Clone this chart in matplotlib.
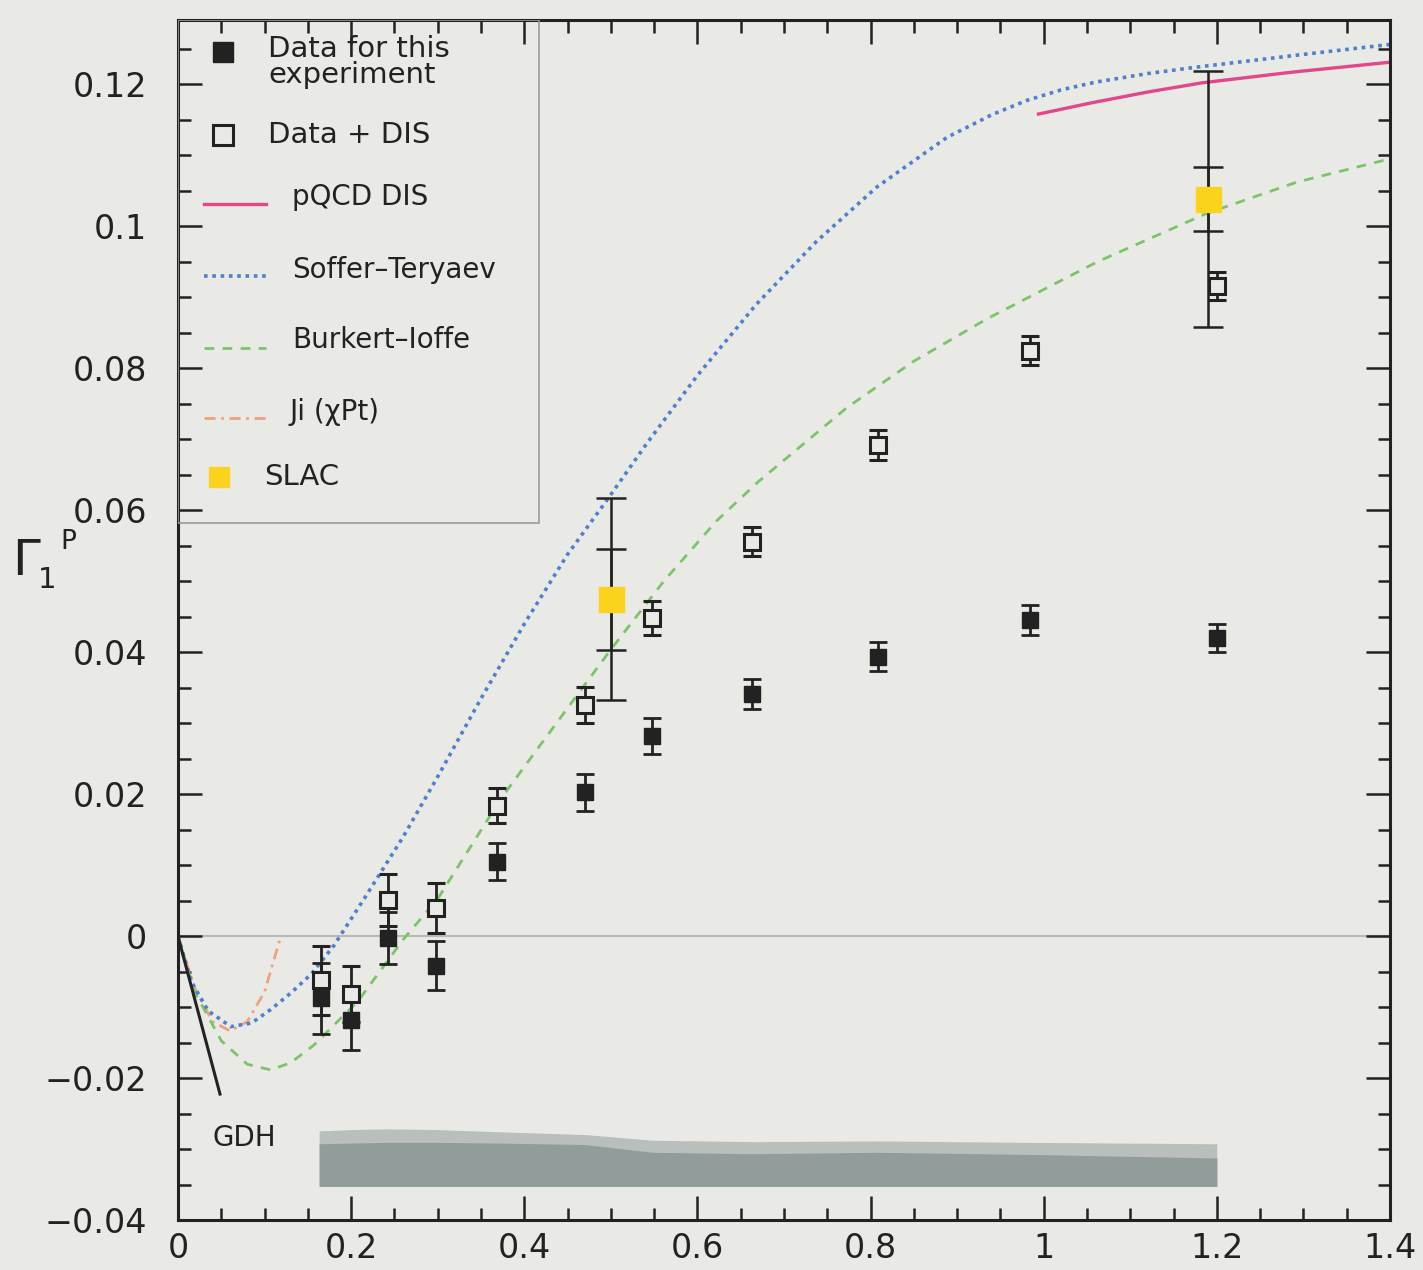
import matplotlib
matplotlib.use("Agg")
import matplotlib.pyplot as plt
from matplotlib.ticker import MultipleLocator, FuncFormatter
from matplotlib.patches import Rectangle

# Q^2 bins (GeV^2)
q2 = [0.165, 0.20, 0.243, 0.298, 0.368, 0.47, 0.548, 0.663, 0.809, 0.984, 1.20]

# data for this experiment (filled squares)
g1_exp = [-0.0087, -0.0118, -0.0002, -0.0041, 0.0105, 0.0203, 0.0282, 0.0341, 0.0394, 0.0446, 0.0420]
g1_exp_err = [0.0050, 0.0042, 0.0037, 0.0034, 0.0026, 0.0026, 0.0025, 0.0021, 0.0020, 0.0021, 0.0020]

# data + DIS (open squares)
g1_dis = [-0.0062, -0.0081, 0.0051, 0.0040, 0.0184, 0.0326, 0.0449, 0.0556, 0.0692, 0.0825, 0.0916]
g1_dis_err = [0.0049, 0.0040, 0.0037, 0.0035, 0.0025, 0.0025, 0.0024, 0.0021, 0.0021, 0.0021, 0.0020]

# SLAC points
slac_q2 = [0.50, 1.19]
slac_g1 = [0.0475, 0.1038]
slac_stat = [0.0071, 0.0045]
slac_tot = [0.0142, 0.0180]

# systematic bands
band_x = [0.163, 0.20, 0.243, 0.298, 0.368, 0.47, 0.548, 0.663, 0.809, 0.984, 1.20]
band_base = -0.0352
band_dark = [-0.0292, -0.0291, -0.0290, -0.0290, -0.0291, -0.0293, -0.0304, -0.0306, -0.0304, -0.0307, -0.0312]
band_light = [-0.0274, -0.0272, -0.0271, -0.0272, -0.0275, -0.0279, -0.0287, -0.0289, -0.0288, -0.0290, -0.0292]

# model curves
st_x = [0, 0.015, 0.035, 0.061, 0.085, 0.107, 0.13, 0.154, 0.180, 0.215, 0.26, 0.30, 0.35, 0.40, 0.45,
        0.497, 0.542, 0.60, 0.668, 0.737, 0.807, 0.888, 0.94, 0.98, 1.02, 1.06, 1.12, 1.176, 1.30, 1.40]
st_y = [0, -0.0063, -0.0105, -0.0127, -0.0122, -0.0103, -0.0080, -0.0053, -0.0013, 0.0053, 0.0140,
        0.0225, 0.0335, 0.0440, 0.0538, 0.0617, 0.0695, 0.0790, 0.0890, 0.0978, 0.1055, 0.1125,
        0.1157, 0.1177, 0.1192, 0.1203, 0.1215, 0.1224, 0.1242, 0.1256]

bi_x = [0, 0.02, 0.05, 0.08, 0.107, 0.13, 0.157, 0.208, 0.261, 0.30, 0.373, 0.42, 0.46, 0.50, 0.561,
        0.622, 0.670, 0.773, 0.85, 0.935, 1.062, 1.188, 1.292, 1.40]
bi_y = [0, -0.0080, -0.0147, -0.0180, -0.0188, -0.0178, -0.0153, -0.0091, -0.0003, 0.0053, 0.0194,
        0.0272, 0.0338, 0.0404, 0.0500, 0.0585, 0.0640, 0.0745, 0.0810, 0.0870, 0.0950, 0.1018,
        0.1062, 0.1095]

pqcd_x = [0.994, 1.056, 1.12, 1.183, 1.287, 1.40]
pqcd_y = [0.1158, 0.1174, 0.1189, 0.1202, 0.1217, 0.1231]

ji_x = [0, 0.02, 0.04, 0.06, 0.08, 0.10, 0.118]
ji_y = [0, -0.0075, -0.0120, -0.0133, -0.0120, -0.0078, -0.0003]

gdh_x = [0, 0.0485]
gdh_y = [0, -0.0222]

bg = "#e9eae5"
c_pqcd = "#e4468c"
c_st = "#4f7fd0"
c_bi = "#7cc46a"
c_ji = "#eea27e"
c_slac = "#fbd21c"
ink = "#222222"

fig = plt.figure(figsize=(14.23, 12.70), dpi=100, facecolor=bg)
ax = fig.add_axes([0.1251, 0.039, 0.8517, 0.945], facecolor=bg)

ax.set_xlim(0, 1.4)
ax.set_ylim(-0.04, 0.129)

# systematic bands
ax.fill_between(band_x, band_base, band_light, color="#b9bfbc", lw=0, zorder=1)
ax.fill_between(band_x, band_base, band_dark, color="#929c9a", lw=0, zorder=1)

ax.axhline(0, color="#b8b8b6", lw=1.5, zorder=1)

# curves
ax.plot(gdh_x, gdh_y, color=ink, lw=2.2, zorder=3)
ax.plot(ji_x, ji_y, color=c_ji, lw=2.0, ls=(0, (4, 2, 1, 2)), zorder=2)
ax.plot(bi_x, bi_y, color=c_bi, lw=2.0, ls=(0, (3.5, 3)), zorder=2)
ax.plot(st_x, st_y, color=c_st, lw=2.6, ls=(0, (1, 1.3)), zorder=2)
ax.plot(pqcd_x, pqcd_y, color=c_pqcd, lw=2.4, zorder=2)

# SLAC
ax.errorbar(slac_q2, slac_g1, yerr=slac_tot, fmt="none", ecolor=ink, elinewidth=1.8,
            capsize=11, capthick=1.8, zorder=4)
ax.errorbar(slac_q2, slac_g1, yerr=slac_stat, fmt="none", ecolor=ink, elinewidth=1.8,
            capsize=11, capthick=1.8, zorder=4)
ax.plot(slac_q2, slac_g1, "s", color=c_slac, ms=18, mec=c_slac, zorder=6)

# data
ax.errorbar(q2, g1_dis, yerr=g1_dis_err, fmt="s", color=ink, mfc=bg, mec=ink, ms=12,
            mew=2.2, elinewidth=2.0, capsize=6.5, capthick=2.0, zorder=5)
ax.errorbar(q2, g1_exp, yerr=g1_exp_err, fmt="s", color=ink, mfc=ink, mec=ink, ms=12,
            elinewidth=2.0, capsize=6.5, capthick=2.0, zorder=5)

ax.text(0.040, -0.0284, "GDH", fontsize=20, color=ink, va="center", ha="left")

# axes styling
ax.xaxis.set_major_locator(MultipleLocator(0.2))
ax.xaxis.set_minor_locator(MultipleLocator(0.05))
ax.yaxis.set_major_locator(MultipleLocator(0.02))
ax.yaxis.set_minor_locator(MultipleLocator(0.005))
ax.tick_params(which="both", direction="in", top=True, right=True, color=ink, width=1.8)
ax.tick_params(which="major", length=17)
ax.tick_params(which="minor", length=9)
ax.tick_params(axis="x", labelsize=24, pad=8, labelcolor=ink)
ax.tick_params(axis="y", labelsize=24, pad=22, labelcolor=ink)
ax.xaxis.set_major_formatter(FuncFormatter(lambda v, p: f"{v:g}"))
ax.yaxis.set_major_formatter(FuncFormatter(
    lambda v, p: "0" if abs(v) < 1e-9 else f"{v:g}".replace("-", "\u2212")))
for s in ax.spines.values():
    s.set_linewidth(2.2)
    s.set_color(ink)

# y label
fig.text(0.0183, 0.558, "\u0393", fontsize=36, color=ink, ha="center", va="center")
fig.text(0.033, 0.543, "1", fontsize=21, color=ink, ha="center", va="center")
fig.text(0.0478, 0.573, "P", fontsize=19, color=ink, ha="center", va="center")

# legend box (drawn by hand to follow the original layout)
T = ax.transAxes
ax.add_patch(Rectangle((0, 0.5808), 0.2978, 1 - 0.5808, transform=T, fill=False,
                       ec="#9a9a98", lw=1.2, zorder=7))
lfs = 21
ax.plot([0.0373], [0.9736], "s", color=ink, ms=15, transform=T, zorder=8)
ax.text(0.0743, 0.9760, "Data for this", fontsize=lfs, color=ink, va="center", transform=T, zorder=8)
ax.text(0.0743, 0.9545, "experiment", fontsize=lfs, color=ink, va="center", transform=T, zorder=8)
ax.plot([0.0373], [0.9042], "s", color=ink, mfc=bg, mew=2.2, ms=15, transform=T, zorder=8)
ax.text(0.0743, 0.9042, "Data + DIS", fontsize=lfs, color=ink, va="center", transform=T, zorder=8)
ax.plot([0.0215, 0.0728], [0.8467, 0.8467], color=c_pqcd, lw=2.4, transform=T, zorder=8)
ax.text(0.0944, 0.8528, "pQCD DIS", fontsize=lfs - 1, color=ink, va="center", transform=T, zorder=8)
ax.plot([0.0215, 0.0728], [0.7867, 0.7867], color=c_st, lw=2.6, ls=(0, (1, 1.3)), transform=T, zorder=8)
ax.text(0.0944, 0.7917, "Soffer\u2013Teryaev", fontsize=lfs - 1, color=ink, va="center", transform=T, zorder=8)
ax.plot([0.0215, 0.0728], [0.7267, 0.7267], color=c_bi, lw=2.0, ls=(0, (3.5, 3)), transform=T, zorder=8)
ax.text(0.0944, 0.7333, "Burkert\u2013Ioffe", fontsize=lfs - 1, color=ink, va="center", transform=T, zorder=8)
ax.plot([0.0215, 0.0728], [0.6683, 0.6683], color=c_ji, lw=2.0, ls=(0, (4, 2, 1, 2)), transform=T, zorder=8)
ax.text(0.0919, 0.6736, "Ji (\u03c7Pt)", fontsize=lfs - 1, color=ink, va="center", transform=T, zorder=8)
ax.plot([0.0339], [0.6194], "s", color=c_slac, ms=15, transform=T, zorder=8)
ax.text(0.0712, 0.6194, "SLAC", fontsize=lfs, color=ink, va="center", transform=T, zorder=8)

fig.savefig("out.png", dpi=100, facecolor=bg)
